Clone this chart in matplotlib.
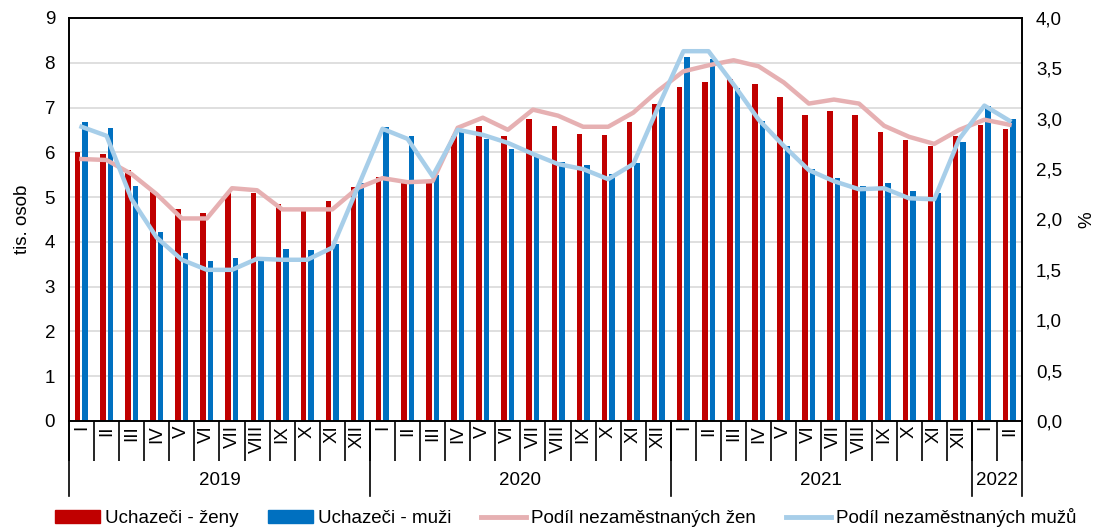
import numpy as np
import matplotlib.pyplot as plt
from matplotlib.patches import Patch
from matplotlib.lines import Line2D

plt.rcParams['font.family'] = ['Liberation Sans', 'DejaVu Sans']

months = ["I", "II", "III", "IV", "V", "VI", "VII", "VIII", "IX", "X", "XI", "XII"] * 3 + ["I", "II"]
years = ["2019", "2020", "2021", "2022"]
year_len = [12, 12, 12, 2]

# uchazeci (tis. osob)
zeny = [6.01, 5.96, 5.60, 5.11, 4.73, 4.64, 5.10, 5.09, 4.85, 4.68, 4.91, 5.22,
        5.45, 5.35, 5.31, 6.37, 6.58, 6.37, 6.75, 6.58, 6.41, 6.39, 6.67, 7.07,
        7.46, 7.58, 7.63, 7.53, 7.24, 6.84, 6.93, 6.84, 6.45, 6.27, 6.13, 6.37,
        6.60, 6.52]
muzi = [6.68, 6.54, 5.24, 4.23, 3.76, 3.57, 3.63, 3.65, 3.83, 3.82, 3.95, 5.31,
        6.57, 6.36, 5.50, 6.51, 6.30, 6.08, 5.96, 5.78, 5.71, 5.52, 5.76, 7.01,
        8.13, 8.09, 7.44, 6.69, 6.13, 5.63, 5.43, 5.25, 5.31, 5.13, 5.09, 6.24,
        7.03, 6.75]

# podil nezamestnanych (%)
podil_zeny = [2.60, 2.59, 2.45, 2.25, 2.01, 2.01, 2.31, 2.29, 2.10, 2.10, 2.10, 2.31,
              2.41, 2.37, 2.38, 2.91, 3.01, 2.89, 3.09, 3.03, 2.92, 2.92, 3.06, 3.28,
              3.47, 3.53, 3.58, 3.52, 3.36, 3.15, 3.19, 3.15, 2.93, 2.82, 2.75, 2.89,
              2.99, 2.94]
podil_muzi = [2.92, 2.83, 2.20, 1.82, 1.60, 1.50, 1.50, 1.61, 1.60, 1.60, 1.72, 2.31,
              2.90, 2.80, 2.43, 2.89, 2.84, 2.76, 2.65, 2.55, 2.50, 2.40, 2.55, 3.12,
              3.67, 3.67, 3.34, 2.99, 2.73, 2.49, 2.38, 2.30, 2.31, 2.21, 2.20, 2.80,
              3.13, 2.98]

red = "#C00000"
blue = "#0070C0"
pink = "#E6B0B2"
lblue = "#A7CEE9"
fs = 13.5

x = np.arange(len(months))

fig = plt.figure(figsize=(10.98, 5.31), dpi=100)
ax = fig.add_axes([0.0628, 0.2072, 0.868, 0.7590])
ax2 = ax.twinx()

ax.bar(x - 0.15, zeny, width=0.22, color=red, zorder=2)
ax.bar(x + 0.15, muzi, width=0.22, color=blue, zorder=2)
ax2.plot(x, podil_zeny, color=pink, lw=3.2, solid_joinstyle='round')
ax2.plot(x, podil_muzi, color=lblue, lw=3.2, solid_joinstyle='round')

ax.set_xlim(-0.5, len(months) - 0.5)
ax.set_ylim(0, 9)
ax.set_yticks(range(10))
ax2.set_ylim(0, 4)
ax2.set_yticks(np.arange(0, 4.01, 0.5))
ax2.set_yticklabels([f"{v:.1f}".replace(".", ",") for v in np.arange(0, 4.01, 0.5)])
ax.yaxis.grid(True, color="#D9D9D9", lw=1.2, zorder=0)
ax.set_axisbelow(True)

for a in (ax, ax2):
    for s in a.spines.values():
        s.set_color("black")
        s.set_linewidth(1.2)
ax.tick_params(axis='y', length=0, labelsize=fs, pad=10)
ax2.tick_params(axis='y', length=0, labelsize=fs, pad=10)

ax.set_xticks(x)
ax.set_xticklabels(months, rotation=90, fontsize=fs)
ax.set_xticks(np.arange(-0.5, len(months)), minor=True)
ax.tick_params(axis='x', which='major', length=0, pad=3)
ax.tick_params(axis='x', which='minor', length=29, width=1.2, direction='out')

ax.set_ylabel("tis. osob", fontsize=fs, labelpad=10)
ax2.set_ylabel("%", fontsize=fs, labelpad=12)

# year separators and labels
trans = ax.get_xaxis_transform()
start = -0.5
for yr, n in zip(years, year_len):
    ax.plot([start, start], [0, -0.185], transform=trans, color="black", lw=1.2, clip_on=False)
    ax.text(start + n / 2, -0.148, yr, transform=trans, ha="center", va="center", fontsize=fs)
    start += n
ax.plot([start, start], [0, -0.185], transform=trans, color="black", lw=1.2, clip_on=False)

handles = [Patch(color=red), Patch(color=blue),
           Line2D([0], [0], color=pink, lw=3.5), Line2D([0], [0], color=lblue, lw=3.5)]
labels = ["Uchazeči - ženy", "Uchazeči - muži", "Podíl nezaměstnaných žen", "Podíl nezaměstnaných mužů"]
fig.legend(handles, labels, loc="lower center", ncol=4, frameon=False, fontsize=fs,
           bbox_to_anchor=(0.515, -0.025), handlelength=2.4, handleheight=0.7,
           handletextpad=0.25, columnspacing=1.6)

fig.savefig("out.png", dpi=100)
